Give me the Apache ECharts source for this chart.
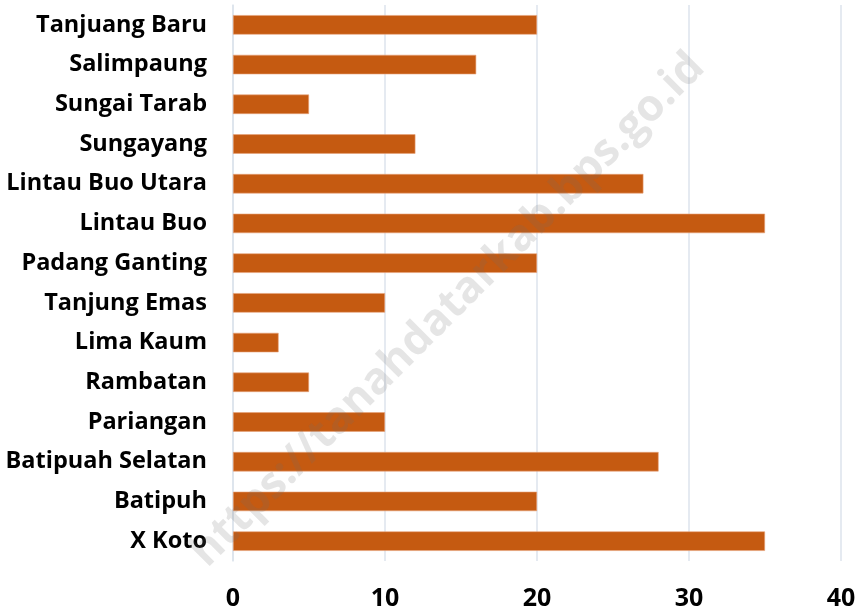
<!DOCTYPE html>
<html>
<head>
<meta charset="utf-8">
<script src="https://cdn.jsdelivr.net/npm/echarts@6/dist/echarts.min.js"></script>
<style>
  html, body { margin: 0; padding: 0; background: #fff; }
  #chart { width: 863px; height: 611px; }
</style>
</head>
<body>
<div id="chart"></div>
<script>
// categories, bottom to top (as drawn on the y axis)
const kecamatan = [
  'X Koto', 'Batipuh', 'Batipuah Selatan', 'Pariangan', 'Rambatan',
  'Lima Kaum', 'Tanjung Emas', 'Padang Ganting', 'Lintau Buo',
  'Lintau Buo Utara', 'Sungayang', 'Sungai Tarab', 'Salimpaung', 'Tanjuang Baru'
]
const jumlah = [35, 20, 28, 10, 5, 3, 10, 20, 35, 27, 12, 5, 16, 20]
const xTicks = [0, 10, 20, 30, 40]

let chart = echarts.init(document.getElementById('chart'))
let option = {
  animation: false,
  grid: {
    left: 233,
    right: 22,
    top: 5,
    bottom: 49,
    containLabel: false
  },
  xAxis: {
    type: 'value',
    min: xTicks[0],
    max: xTicks[xTicks.length - 1],
    interval: 10,
    axisLine: { show: false },
    axisTick: { show: false },
    splitLine: { lineStyle: { color: '#dde3ec', width: 1.5 } },
    axisLabel: {
      margin: 25,
      fontFamily: 'Open Sans',
      fontWeight: 'bold',
      fontSize: 25,
      color: '#000'
    }
  },
  yAxis: {
    type: 'category',
    data: kecamatan,
    axisLine: { show: true, lineStyle: { color: '#dde3ec', width: 1.5 } },
    axisTick: { show: false },
    axisLabel: {
      margin: 26,
      fontFamily: 'Open Sans',
      fontWeight: 'bold',
      fontSize: 23.5,
      color: '#000'
    }
  },
  series: [
    {
      type: 'bar',
      data: jumlah,
      barWidth: '49%',
      itemStyle: {
        color: '#c55a11',
        borderColor: '#e8a27a',
        borderWidth: 0.6
      }
    }
  ],
  graphic: [
    {
      type: 'text',
      x: 448,
      y: 310,
      rotation: Math.PI / 4,
      z: 100,
      style: {
        text: 'https://tanahdatarkab.bps.go.id',
        fontFamily: 'Open Sans',
        fontWeight: 'bold',
        fontSize: 44,
        fill: 'rgba(110,110,110,0.18)',
        align: 'center',
        verticalAlign: 'middle'
      }
    }
  ]
}
chart.setOption(option)
</script>
</body>
</html>
